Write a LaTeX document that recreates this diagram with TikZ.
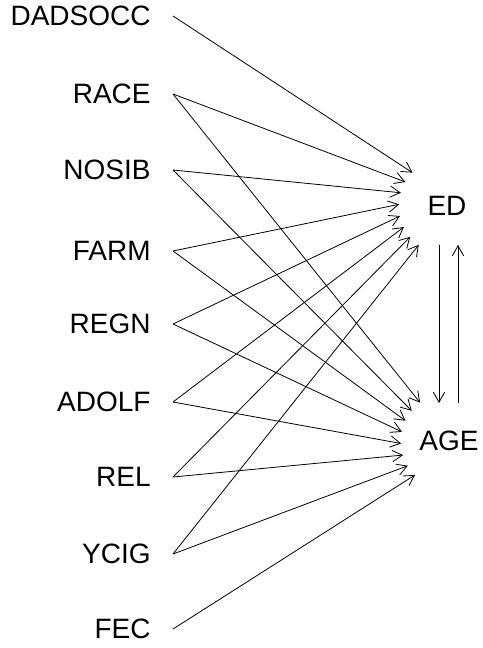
\documentclass[tikz,border=0pt]{standalone}
\usepackage{fontspec}
\setmainfont{Liberation Sans}
\usetikzlibrary{arrows.meta, calc}

\begin{document}
\begin{tikzpicture}[x=0.75pt, y=-0.75pt, line width=0.6pt,
  >={Straight Barb[length=7.5pt, width=8.5pt]},
  lbl/.style={font=\fontsize{21}{25}\selectfont, anchor=east, inner xsep=16.5pt, inner ysep=0pt},
  var/.style={font=\fontsize{21}{25}\selectfont, circle, minimum size=72pt, inner sep=0pt, outer sep=0pt}]
  \useasboundingbox (0,0) rectangle (482,648);
  % Exogenous variables on the left
  \node[lbl] (DADSOCC) at (173,16) {DADSOCC};
  \node[lbl] (RACE) at (173,94) {RACE};
  \node[lbl] (NOSIB) at (173,170) {NOSIB};
  \node[lbl] (FARM) at (173,251) {FARM};
  \node[lbl] (REGN) at (173,324) {REGN};
  \node[lbl] (ADOLF) at (173,402) {ADOLF};
  \node[lbl] (REL) at (173,477) {REL};
  \node[lbl] (YCIG) at (173,554) {YCIG};
  \node[lbl] (FEC) at (173,629) {FEC};
  % Endogenous variables
  \node[var] (ED) at (447,206) {ED};
  \node[var] (AGE) at (449,441) {AGE};
  % Paths into ED
  \draw[->] (DADSOCC.east) -- (ED.136);
  \draw[->] (RACE.east) -- (ED.150);
  \draw[->] (NOSIB.east) -- (ED.164);
  \draw[->] (FARM.east) -- (ED.178);
  \draw[->] (REGN.east) -- (ED.192);
  \draw[->] (ADOLF.east) -- (ED.206);
  \draw[->] (REL.east) -- (ED.220);
  \draw[->] (YCIG.east) -- (ED.234);
  % Paths into AGE
  \draw[->] (RACE.east) -- (AGE.127);
  \draw[->] (NOSIB.east) -- (AGE.141);
  \draw[->] (FARM.east) -- (AGE.155);
  \draw[->] (REGN.east) -- (AGE.169);
  \draw[->] (ADOLF.east) -- (AGE.183);
  \draw[->] (REL.east) -- (AGE.197);
  \draw[->] (YCIG.east) -- (AGE.211);
  \draw[->] (FEC.east) -- (AGE.225);
  % Reciprocal paths between ED and AGE
  \draw[->] ($(ED)+(-8,39)$) -- ($(AGE)+(-10,-38)$);
  \draw[->] ($(AGE)+(9,-38)$) -- ($(ED)+(11,39)$);
\end{tikzpicture}
\end{document}
